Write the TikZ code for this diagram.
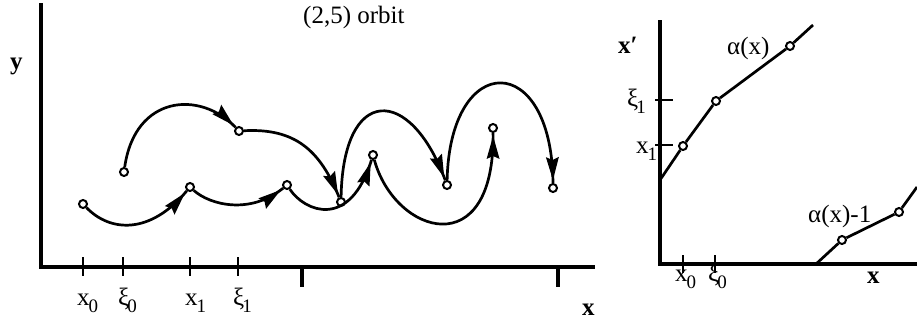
\documentclass[tikz,border=0pt]{standalone}
\usepackage{fontspec}
\setmainfont{Liberation Serif}
\usetikzlibrary{decorations.markings}
\newcommand{\lsub}[3][-1pt]{#2\kern#1\raisebox{-0.3em}{\fontsize{19}{19}\selectfont #3}}
\begin{document}
\begin{tikzpicture}[x=1pt,y=-1pt,
  orb/.style={circle,draw,fill=white,line width=2pt,inner sep=0pt,minimum size=8pt},
  curve/.style={line width=2.7pt,postaction={decorate},
    decoration={markings,mark=at position -4pt with {\fill (1pt,0pt) -- (-22pt,6.5pt) -- (-19pt,0pt) -- (-22pt,-6.5pt) -- cycle;}}},
  axis/.style={line width=4pt},
  tick/.style={line width=2.8pt},
  bigtick/.style={line width=4.5pt},
  seg/.style={line width=2.7pt},
  lbl/.style={anchor=base west,inner sep=0pt,font=\fontsize{25}{25}\selectfont},
  axlbl/.style={lbl,font=\fontsize{25}{25}\selectfont\bfseries}
]
\useasboundingbox (0,0) rectangle (917,321);

% ---------- left panel ----------
\coordinate (ytop) at (41,5);
\coordinate (orig) at (41,267);
\coordinate (xend) at (593,267);
\draw[axis,line cap=rect] (ytop) -- (orig) -- (xend);
\draw[tick] (83,257) -- (83,276);
\draw[tick] (123,257) -- (123,276);
\draw[tick] (190,257) -- (190,276);
\draw[tick] (238,257) -- (238,276);
\draw[bigtick] (302,267) -- (302,287);
\draw[bigtick] (558,267) -- (558,287);

\node[axlbl] (ylab) at (10,70) {y};
\node[axlbl] (xlab) at (582,315) {x};
\node[lbl] (title) at (303,24) {(2,5) orbit};
\node[lbl] (lx0) at (77,305) {\lsub{x}{0}};
\node[lbl] (lxi0) at (118,305) {\lsub[-2pt]{ξ}{0}};
\node[lbl] (lx1) at (185,305) {\lsub{x}{1}};
\node[lbl] (lxi1) at (233,305) {\lsub[-2pt]{ξ}{1}};

\node[orb] (p0) at (83,204) {};
\node[orb] (q0) at (124,172) {};
\node[orb] (p1) at (190,187) {};
\node[orb] (q1) at (239,131) {};
\node[orb] (p2) at (287,185) {};
\node[orb] (q2) at (341,202) {};
\node[orb] (p3) at (373,155) {};
\node[orb] (q3) at (447,185) {};
\node[orb] (p4) at (493,128) {};
\node[orb] (q4) at (553,188) {};

\draw[curve] (p0) .. controls (110,232) and (150,235) .. (p1);
\draw[curve] (p1) .. controls (210,205) and (250,215) .. (p2);
\draw[curve] (p2) .. controls (305,212) and (350,230) .. (p3);
\draw[curve] (p3) .. controls (395,235) and (495,265) .. (p4);
\draw[curve] (q0) .. controls (135,95) and (200,90) .. (q1);
\draw[curve] (q1) .. controls (295,128) and (320,150) .. (q2);
\draw[curve] (q2) .. controls (343,85) and (410,85) .. (q3);
\draw[curve] (q3) .. controls (450,50) and (552,50) .. (q4);

% ---------- right panel ----------
\coordinate (rtop) at (660,22);
\coordinate (rorig) at (660,264);
\coordinate (rxend) at (917,264);
\draw[axis,line cap=rect] (rtop) -- (rorig) -- (rxend);
\draw[tick] (655,100) -- (673,100);
\draw[tick] (655,145) -- (673,145);
\draw[tick] (683,255) -- (683,273);
\draw[tick] (715,255) -- (715,273);

\node[axlbl] (xplab) at (618,53) {x′};
\node[axlbl] (rxlab) at (867,283) {x};
\node[lbl] (rxi1) at (627,106) {\lsub[-2pt]{ξ}{1}};
\node[lbl] (rx1) at (636,153) {\lsub{x}{1}};
\node[lbl] (rx0) at (675,281) {\lsub{x}{0}};
\node[lbl] (rxi0) at (708,281) {\lsub[-2pt]{ξ}{0}};
\node[lbl] (alab) at (727,55) {α(x)};
\node[lbl] (a1lab) at (808,222) {α(x)-1};

\coordinate (a0) at (660,180);
\node[orb] (a1) at (683,146) {};
\node[orb] (a2) at (716,101) {};
\node[orb] (a3) at (790,46) {};
\coordinate (a4) at (813,25);
\draw[seg] (a0) -- (a1) -- (a2) -- (a3) -- (a4);

\coordinate (b0) at (816,264);
\node[orb] (b1) at (842,240) {};
\node[orb] (b2) at (899,212) {};
\coordinate (b3) at (917,187);
\draw[seg] (b0) -- (b1) -- (b2) -- (b3);
\end{tikzpicture}
\end{document}
